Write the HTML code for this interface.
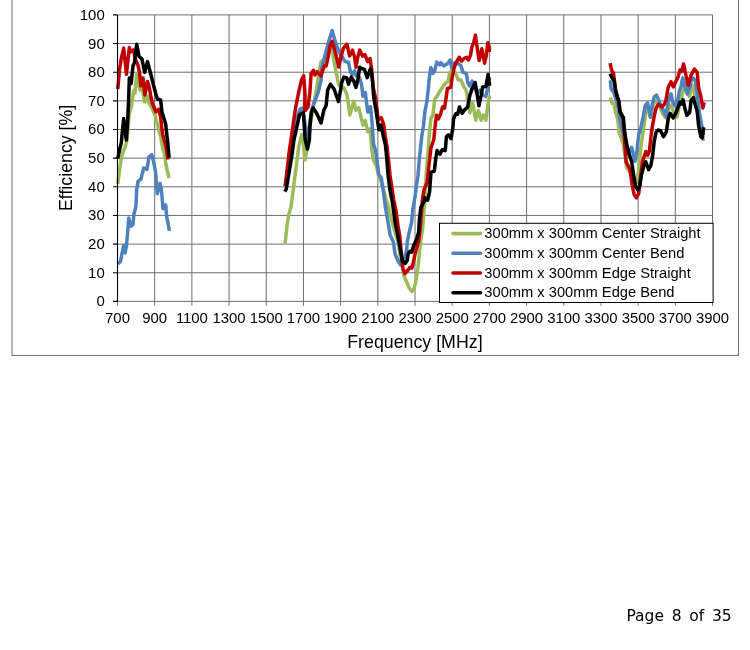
<!DOCTYPE html>
<html><head><meta charset="utf-8"><title>Efficiency chart</title>
<style>html,body{margin:0;padding:0;background:#fff}svg{display:block}text{font-family:"Liberation Sans",sans-serif;fill:#000}</style></head><body>
<svg width="750" height="650" viewBox="0 0 750 650">
<rect width="750" height="650" fill="#fff"/>
<path d="M12.05,0 V355.4 H738.5 V0" fill="none" stroke="#747474" stroke-width="1.05"/>
<path d="M154.69,14.90 V301.4 M191.88,14.90 V301.4 M229.07,14.90 V301.4 M266.26,14.90 V301.4 M303.45,14.90 V301.4 M340.64,14.90 V301.4 M377.83,14.90 V301.4 M415.02,14.90 V301.4 M452.21,14.90 V301.4 M489.40,14.90 V301.4 M526.59,14.90 V301.4 M563.78,14.90 V301.4 M600.97,14.90 V301.4 M638.16,14.90 V301.4 M675.35,14.90 V301.4 M712.54,14.90 V301.4 M117.5,272.75 H712.54 M117.5,244.10 H712.54 M117.5,215.45 H712.54 M117.5,186.80 H712.54 M117.5,158.15 H712.54 M117.5,129.50 H712.54 M117.5,100.85 H712.54 M117.5,72.20 H712.54 M117.5,43.55 H712.54" stroke="#6e6e6e" stroke-width="1" fill="none"/>
<path d="M117.5,14.90 H712.54 V301.4" stroke="#6e6e6e" stroke-width="1" fill="none"/>
<polyline points="117.8,184.0 119.5,170.0 121.3,158.7 123.0,152.0 125.0,147.5 127.0,140.0 128.2,125.0 129.3,114.0 131.6,105.5 133.7,90.5 135.0,93.0 136.6,74.0 138.5,84.0 140.0,90.0 142.0,88.0 144.7,101.8 147.0,96.0 149.0,103.0 152.1,108.3 155.4,116.7 158.0,127.0 160.8,137.0 162.9,150.3 164.0,152.0 166.0,165.0 169.0,177.8" fill="none" stroke="#9bbb59" stroke-width="3.5" stroke-linejoin="round" stroke-linecap="butt"/>
<polyline points="285.0,243.5 285.5,239.8 286.9,226.7 288.8,214.5 291.1,206.1 293.0,192.1 294.4,180.0 296.1,167.3 298.9,145.9 301.7,134.7 303.0,140.0 305.0,159.9 307.0,150.0 309.0,135.0 311.0,120.0 313.0,108.0 315.6,94.5 318.2,77.5 320.9,62.3 323.0,60.0 325.5,58.0 328.0,52.0 331.0,45.0 332.6,52.1 334.5,64.2 336.8,75.4 338.7,84.8 340.2,86.0 343.9,87.8 347.1,95.3 349.9,114.9 353.7,101.3 356.0,110.2 358.8,107.9 361.6,119.5 363.0,125.1 365.3,120.5 367.7,131.7 370.0,128.9 371.4,144.8 371.8,149.3 373.2,159.6 376.5,166.0 378.5,176.0 381.0,181.0 383.5,190.0 386.0,199.0 388.0,205.0 390.1,213.7 393.6,227.7 397.8,241.0 399.9,254.0 401.8,264.0 403.9,275.5 406.7,282.0 409.5,288.5 411.9,291.4 414.2,288.5 416.1,280.1 417.9,268.0 419.3,254.0 420.8,240.0 422.8,227.7 423.7,213.7 424.6,204.3 426.3,173.0 428.2,149.8 429.1,136.7 431.0,118.0 433.0,115.0 434.7,99.3 437.5,95.6 439.9,90.9 442.6,87.4 445.3,83.1 448.0,82.0 449.6,73.4 452.0,70.0 454.5,72.0 456.6,75.6 458.2,79.9 460.9,79.9 463.6,86.3 466.0,90.0 467.1,95.5 469.8,112.8 472.5,102.0 475.7,120.3 478.4,110.6 481.1,120.3 483.2,114.9 485.9,120.3 488.1,103.1 489.7,95.5" fill="none" stroke="#9bbb59" stroke-width="3.5" stroke-linejoin="round" stroke-linecap="butt"/>
<polyline points="610.3,97.6 612.1,103.4 614.0,104.0 615.4,111.8 617.7,119.3 619.1,132.3 621.5,138.9 623.5,145.0 626.6,167.4 630.0,172.0 633.0,180.0 635.5,178.0 637.3,182.3 639.2,163.7 641.1,145.4 643.0,132.3 644.8,120.0 646.5,110.0 648.5,108.0 650.4,117.0 652.5,107.0 655.0,101.0 658.0,102.0 660.0,107.0 662.1,112.4 665.9,118.0 668.0,110.0 671.0,105.0 673.5,112.0 677.1,117.1 679.5,105.0 682.0,95.0 684.0,88.0 685.9,82.7 689.2,96.7 692.5,85.5 694.4,92.9 697.0,105.0 699.5,118.0 701.5,132.0 703.5,141.0" fill="none" stroke="#9bbb59" stroke-width="3.5" stroke-linejoin="round" stroke-linecap="butt"/>
<polyline points="118.0,264.0 120.4,261.4 122.3,252.0 123.7,245.5 125.1,253.0 126.5,245.5 127.4,234.8 128.8,218.0 130.7,226.4 133.0,224.5 133.9,214.3 135.8,206.8 136.3,199.8 136.7,189.5 138.1,181.1 140.9,179.2 143.7,168.0 147.0,169.4 148.9,156.8 151.7,154.5 153.5,161.5 155.4,170.8 157.3,193.7 160.1,183.4 161.5,190.4 162.4,201.2 162.9,208.7 165.7,204.9 166.6,216.1 168.5,225.5 169.4,231.0" fill="none" stroke="#4f81bd" stroke-width="3.5" stroke-linejoin="round" stroke-linecap="butt"/>
<polyline points="286.0,186.0 288.0,167.0 291.0,148.0 294.0,132.0 297.3,117.3 300.1,109.0 302.5,108.0 304.5,120.0 306.8,141.0 309.0,128.0 311.4,112.0 313.5,104.0 315.6,99.5 318.3,92.1 321.1,80.0 321.9,67.9 324.2,58.6 326.1,51.1 328.9,40.9 332.2,30.6 334.5,39.0 337.3,47.4 339.6,53.0 342.9,57.7 344.8,61.4 348.5,62.3 350.4,71.7 352.2,74.5 354.6,70.8 356.2,75.8 359.6,77.5 361.6,85.0 363.0,96.2 365.3,92.5 367.7,112.1 370.5,106.5 371.9,120.5 372.8,133.6 373.7,144.8 375.5,150.3 377.4,163.3 378.8,174.5 381.1,177.3 383.0,188.5 385.4,207.1 388.2,223.0 390.1,235.1 393.3,241.7 395.1,254.0 397.9,260.5 400.7,265.2 404.9,257.7 406.7,249.3 407.3,241.7 409.2,232.3 411.5,223.0 412.9,209.0 415.3,195.0 416.2,186.7 418.0,175.5 419.4,158.7 421.7,136.7 423.5,125.5 424.9,111.5 426.8,102.1 428.2,90.0 429.2,78.8 430.8,67.5 432.9,73.4 434.5,71.3 436.7,62.1 439.9,64.8 441.0,62.7 443.7,65.9 448.0,63.2 450.1,60.0 451.8,68.1 454.4,62.7 457.5,63.0 460.9,65.9 463.1,72.4 466.3,73.4 467.9,83.1 469.5,86.0 472.2,81.0 474.5,88.0 477.0,93.0 480.0,90.0 483.0,95.0 485.8,96.5 487.5,89.0 489.5,77.0" fill="none" stroke="#4f81bd" stroke-width="3.5" stroke-linejoin="round" stroke-linecap="butt"/>
<polyline points="610.3,80.3 611.2,89.2 613.5,92.0 615.8,99.0 617.5,104.0 619.0,113.0 620.1,121.1 621.5,127.0 623.5,135.0 625.5,146.0 628.0,153.0 630.0,151.0 631.7,147.3 633.5,155.0 635.0,161.3 636.9,151.0 638.7,135.1 641.1,126.7 643.4,115.5 645.3,105.3 647.6,102.9 650.4,117.4 652.3,104.3 654.2,96.9 656.5,95.1 658.9,100.4 661.0,106.0 663.5,110.0 665.9,116.1 668.7,100.0 671.0,93.9 672.9,102.3 675.2,106.0 678.0,98.5 679.4,91.1 680.8,87.3 682.7,78.0 684.5,85.5 687.3,93.9 689.2,89.2 691.1,80.8 693.4,78.0 695.3,80.8 696.7,90.0 699.5,113.3 701.8,125.5 703.2,135.0" fill="none" stroke="#4f81bd" stroke-width="3.5" stroke-linejoin="round" stroke-linecap="butt"/>
<polyline points="117.8,89.2 119.5,69.5 121.3,58.3 123.7,48.1 126.5,74.2 129.3,47.6 130.7,51.8 133.5,49.9 135.5,60.0 137.7,64.2 139.5,72.0 140.8,85.8 143.0,78.0 144.9,95.0 147.5,81.5 149.3,87.3 150.8,96.5 152.5,103.5 155.9,112.0 158.7,109.3 160.6,116.7 161.5,126.1 162.9,135.4 165.0,143.0 166.5,150.0 168.0,159.6" fill="none" stroke="#c00000" stroke-width="3.5" stroke-linejoin="round" stroke-linecap="butt"/>
<polyline points="284.8,186.0 285.4,184.0 289.6,148.7 292.4,130.0 293.5,122.0 295.9,106.1 298.7,92.1 301.5,80.0 303.7,75.9 305.1,95.0 304.8,110.8 308.0,107.1 309.9,92.1 311.1,73.6 313.5,70.3 314.9,75.0 317.2,71.7 320.9,75.9 324.2,66.1 326.1,66.1 328.4,55.8 330.3,44.6 332.2,41.3 334.0,47.4 336.4,56.7 338.7,67.0 341.0,56.7 343.4,48.3 346.9,44.2 349.6,55.9 352.5,50.2 354.6,57.1 356.0,67.3 357.4,58.9 359.7,50.1 362.5,56.1 364.9,54.7 367.7,61.7 370.0,58.5 371.4,67.5 373.2,87.7 375.6,98.1 378.2,119.8 381.2,117.7 383.6,124.2 385.4,137.3 386.8,144.8 388.5,160.0 390.0,175.0 392.3,190.4 393.7,199.8 395.7,209.0 398.0,225.8 399.9,237.0 401.5,255.0 403.0,268.9 404.9,273.6 407.2,270.8 410.0,267.5 411.9,268.0 413.3,262.4 415.1,254.0 417.0,246.5 418.9,240.0 420.5,225.0 422.3,200.6 424.0,189.8 427.3,182.3 429.1,163.7 431.0,147.9 433.8,139.5 435.7,120.8 436.6,115.2 438.5,118.9 440.8,113.3 442.7,106.8 444.5,108.2 445.9,99.3 447.4,88.5 450.7,87.4 452.3,76.7 454.4,67.0 456.6,61.6 459.3,57.3 461.4,61.1 464.1,58.4 466.8,57.3 468.4,60.0 470.6,55.1 471.7,47.6 473.8,42.2 475.4,35.2 477.0,46.5 479.2,60.5 481.9,48.7 484.6,63.2 486.2,56.2 487.8,42.8 489.4,47.6 489.2,52.0" fill="none" stroke="#c00000" stroke-width="3.5" stroke-linejoin="round" stroke-linecap="butt"/>
<polyline points="610.1,63.1 611.7,70.5 613.5,73.3 614.5,81.0 615.6,90.0 617.3,97.0 618.7,101.0 620.1,112.0 623.0,118.0 624.3,133.0 624.9,145.0 626.1,161.8 629.9,169.3 632.2,185.1 634.1,194.5 636.4,197.8 638.7,193.6 640.5,178.0 642.5,161.8 645.8,151.5 647.6,155.3 649.5,150.6 650.9,137.0 652.3,126.7 654.2,116.5 656.0,108.1 658.4,104.3 661.6,107.0 664.4,104.2 665.9,100.4 668.2,87.3 671.0,81.7 673.3,86.9 675.7,81.7 678.0,77.1 679.9,70.1 681.7,71.5 683.6,64.0 685.9,75.2 688.3,85.5 691.1,75.2 694.4,69.1 697.2,72.4 698.6,87.3 700.9,96.7 702.8,108.0 704.2,102.3" fill="none" stroke="#c00000" stroke-width="3.5" stroke-linejoin="round" stroke-linecap="butt"/>
<polyline points="117.8,158.7 119.5,150.0 121.3,142.8 122.0,135.0 123.7,118.6 125.5,134.0 126.3,140.0 127.5,125.0 128.8,95.0 129.3,78.0 131.1,83.5 133.0,65.8 134.4,63.0 136.7,44.3 139.1,56.5 141.9,58.8 144.7,72.3 147.5,61.6 150.3,72.3 153.1,83.6 155.9,94.3 157.3,99.0 160.6,99.9 162.0,112.1 163.8,117.7 165.7,124.2 167.1,137.3 168.0,145.0 169.0,157.7" fill="none" stroke="#000000" stroke-width="3.5" stroke-linejoin="round" stroke-linecap="butt"/>
<polyline points="284.8,191.7 286.3,189.0 291.5,158.0 294.0,139.8 297.3,124.8 299.6,114.5 303.3,112.7 304.3,126.7 305.2,139.8 307.5,149.0 309.4,139.8 309.9,126.7 311.3,112.7 313.1,108.0 316.4,112.7 321.1,123.0 323.9,109.9 326.2,105.2 327.6,90.3 330.4,84.2 334.2,89.3 338.4,101.5 340.7,89.3 341.5,83.2 343.9,77.1 346.7,77.6 348.5,84.2 351.3,77.1 353.7,80.9 356.0,87.4 357.9,79.5 359.7,67.3 362.1,68.7 364.4,69.2 367.2,77.6 370.5,68.7 371.9,74.8 372.8,84.2 373.7,97.1 376.1,111.1 378.9,129.8 380.8,125.1 383.6,137.3 385.4,144.8 386.7,157.7 388.1,175.5 390.0,190.4 391.9,199.8 393.3,209.0 395.2,223.0 398.0,237.0 399.9,247.3 401.3,254.8 402.5,261.5 405.3,263.3 407.2,260.5 408.1,254.0 410.0,251.2 411.9,252.1 413.3,246.5 416.7,238.9 418.6,232.3 419.5,218.3 420.9,207.1 424.2,201.5 425.1,197.8 427.7,200.1 429.6,191.7 431.0,172.1 434.3,171.1 435.7,159.0 437.1,150.6 439.9,154.3 442.2,149.7 445.0,150.6 445.5,147.9 446.4,136.7 448.3,134.8 451.1,138.6 452.9,127.3 453.6,118.7 455.8,113.8 457.6,114.3 459.5,107.0 462.2,113.3 464.9,109.5 467.6,107.4 469.8,95.5 471.9,89.1 475.2,82.6 477.3,95.5 478.9,105.8 481.1,95.5 482.7,86.9 485.9,86.4 488.1,74.5 489.7,85.8" fill="none" stroke="#000000" stroke-width="3.5" stroke-linejoin="round" stroke-linecap="butt"/>
<polyline points="610.1,73.8 612.1,78.0 614.0,79.9 615.4,90.1 617.3,96.7 618.7,100.4 620.1,111.8 623.3,117.4 624.7,132.3 626.6,143.5 628.9,153.4 631.7,161.8 633.6,174.9 635.5,186.1 637.8,189.8 639.7,186.1 641.5,174.9 643.9,165.5 645.8,161.8 648.6,169.7 650.9,165.5 652.8,154.3 654.2,141.7 656.0,132.3 657.9,130.0 660.7,131.0 663.5,136.7 666.3,132.0 668.2,118.9 670.1,113.3 673.3,118.0 676.1,112.4 678.0,107.7 679.9,102.1 681.7,104.0 683.1,99.8 685.0,108.7 686.9,115.2 689.7,112.4 691.1,100.3 693.4,97.5 695.3,104.9 697.2,111.5 698.6,125.5 700.9,136.7 702.3,138.1 703.7,127.3" fill="none" stroke="#000000" stroke-width="3.5" stroke-linejoin="round" stroke-linecap="butt"/>
<path d="M117.5,301.4 H712.54 M117.50,301.4 V305.70 M154.69,301.4 V305.70 M191.88,301.4 V305.70 M229.07,301.4 V305.70 M266.26,301.4 V305.70 M303.45,301.4 V305.70 M340.64,301.4 V305.70 M377.83,301.4 V305.70 M415.02,301.4 V305.70 M452.21,301.4 V305.70 M489.40,301.4 V305.70 M526.59,301.4 V305.70 M563.78,301.4 V305.70 M600.97,301.4 V305.70 M638.16,301.4 V305.70 M675.35,301.4 V305.70 M712.54,301.4 V305.70" stroke="#6e6e6e" stroke-width="1" fill="none"/>
<path d="M117.5,14.90 V301.9 M113,301.40 H117.5 M113,272.75 H117.5 M113,244.10 H117.5 M113,215.45 H117.5 M113,186.80 H117.5 M113,158.15 H117.5 M113,129.50 H117.5 M113,100.85 H117.5 M113,72.20 H117.5 M113,43.55 H117.5 M113,14.90 H117.5" stroke="#000" stroke-width="1.1" fill="none"/>
<rect x="439.5" y="223.3" width="273.6" height="79.2" fill="#fff" stroke="#000" stroke-width="1"/>
<line x1="453" y1="233.6" x2="480.5" y2="233.6" stroke="#9bbb59" stroke-width="3.6" stroke-linecap="round"/>
<text x="484.3" y="238.2" font-size="14.7">300mm x 300mm Center Straight</text>
<line x1="453" y1="253.3" x2="480.5" y2="253.3" stroke="#4f81bd" stroke-width="3.6" stroke-linecap="round"/>
<text x="484.3" y="257.9" font-size="14.7">300mm x 300mm Center Bend</text>
<line x1="453" y1="273.0" x2="480.5" y2="273.0" stroke="#c00000" stroke-width="3.6" stroke-linecap="round"/>
<text x="484.3" y="277.6" font-size="14.7">300mm x 300mm Edge Straight</text>
<line x1="453" y1="292.7" x2="480.5" y2="292.7" stroke="#000000" stroke-width="3.6" stroke-linecap="round"/>
<text x="484.3" y="297.3" font-size="14.7">300mm x 300mm Edge Bend</text>
<text x="104.7" y="306.3" font-size="14.9" text-anchor="end">0</text>
<text x="104.7" y="277.6" font-size="14.9" text-anchor="end">10</text>
<text x="104.7" y="249.0" font-size="14.9" text-anchor="end">20</text>
<text x="104.7" y="220.3" font-size="14.9" text-anchor="end">30</text>
<text x="104.7" y="191.7" font-size="14.9" text-anchor="end">40</text>
<text x="104.7" y="163.0" font-size="14.9" text-anchor="end">50</text>
<text x="104.7" y="134.4" font-size="14.9" text-anchor="end">60</text>
<text x="104.7" y="105.8" font-size="14.9" text-anchor="end">70</text>
<text x="104.7" y="77.1" font-size="14.9" text-anchor="end">80</text>
<text x="104.7" y="48.5" font-size="14.9" text-anchor="end">90</text>
<text x="104.7" y="19.8" font-size="14.9" text-anchor="end">100</text>
<text x="117.5" y="323.3" font-size="14.9" text-anchor="middle">700</text>
<text x="154.7" y="323.3" font-size="14.9" text-anchor="middle">900</text>
<text x="191.9" y="323.3" font-size="14.9" text-anchor="middle">1100</text>
<text x="229.1" y="323.3" font-size="14.9" text-anchor="middle">1300</text>
<text x="266.3" y="323.3" font-size="14.9" text-anchor="middle">1500</text>
<text x="303.4" y="323.3" font-size="14.9" text-anchor="middle">1700</text>
<text x="340.6" y="323.3" font-size="14.9" text-anchor="middle">1900</text>
<text x="377.8" y="323.3" font-size="14.9" text-anchor="middle">2100</text>
<text x="415.0" y="323.3" font-size="14.9" text-anchor="middle">2300</text>
<text x="452.2" y="323.3" font-size="14.9" text-anchor="middle">2500</text>
<text x="489.4" y="323.3" font-size="14.9" text-anchor="middle">2700</text>
<text x="526.6" y="323.3" font-size="14.9" text-anchor="middle">2900</text>
<text x="563.8" y="323.3" font-size="14.9" text-anchor="middle">3100</text>
<text x="601.0" y="323.3" font-size="14.9" text-anchor="middle">3300</text>
<text x="638.2" y="323.3" font-size="14.9" text-anchor="middle">3500</text>
<text x="675.3" y="323.3" font-size="14.9" text-anchor="middle">3700</text>
<text x="712.5" y="323.3" font-size="14.9" text-anchor="middle">3900</text>
<text x="414.9" y="347.5" font-size="17.8" text-anchor="middle">Frequency [MHz]</text>
<text transform="translate(72.4,157.9) rotate(-90)" font-size="17.75" text-anchor="middle">Efficiency [%]</text>
<text x="626.4" y="620.8" font-size="15.5" style="font-family:'DejaVu Sans',sans-serif;word-spacing:2.8px">Page 8 of 35</text>
</svg></body></html>
